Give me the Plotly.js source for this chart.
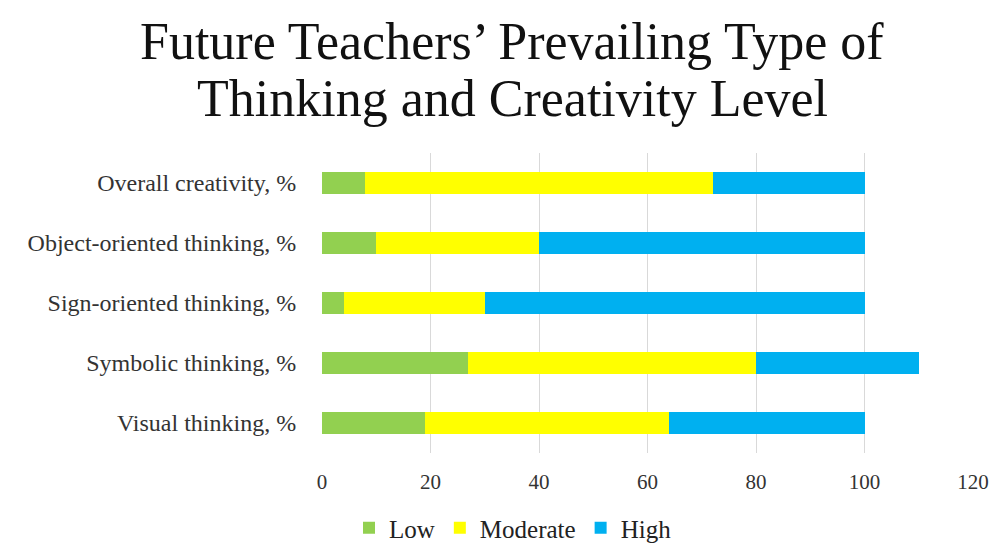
<!DOCTYPE html>
<html>
<head>
<meta charset="utf-8">
<script src="https://cdn.plot.ly/plotly-3.0.1.min.js"></script>
<style>html,body{margin:0;padding:0;background:#fff;}#chart{width:994px;height:545px;}</style>
</head>
<body>
<div id="chart"></div>
<script>
const categories = ["Visual thinking, %", "Symbolic thinking, %", "Sign-oriented thinking, %", "Object-oriented thinking, %", "Overall creativity, %"];
const lowValues = [19, 27, 4, 10, 8];
const moderateValues = [45, 53, 26, 30, 64];
const highValues = [36, 30, 70, 60, 28];
const seriesNames = ["Low", "Moderate", "High"];
const xTicks = [0, 20, 40, 60, 80, 100, 120];
const titleLines = ["Future Teachers’ Prevailing Type of", "Thinking and Creativity Level"];

const serif = "Liberation Serif, Times New Roman, serif";
const colors = ["#92D050", "#FFFF00", "#00B0F0"];
const data = [lowValues, moderateValues, highValues].map((vals, i) => ({
  type: "bar",
  orientation: "h",
  name: seriesNames[i],
  y: categories,
  x: vals,
  marker: {color: colors[i], line: {width: 0}},
  hoverinfo: "x+name"
}));

const ML = 322, MR = 21, MT = 153, MB = 92, W = 994, H = 545;
const PW = W - ML - MR, PH = H - MT - MB;
const px2x = px => (px - ML) / PW;
const py2y = py => (H - MB - py) / PH;

const layout = {
  width: W, height: H,
  paper_bgcolor: "#fff", plot_bgcolor: "#fff",
  margin: {l: ML, r: MR, t: MT, b: MB, autoexpand: false},
  barmode: "stack",
  bargap: 0.62,
  showlegend: true,
  legend: {
    orientation: "h", xref: "container", yref: "container",
    x: 513 / W, xanchor: "center", y: (H - 505) / H, yanchor: "top",
    font: {family: serif, size: 25, color: "#222"},
    traceorder: "normal"
  },
  xaxis: {
    range: [0, 120], tickvals: xTicks, ticktext: xTicks.map(String),
    showgrid: true, gridcolor: "#d9d9d9", gridwidth: 1,
    zeroline: false, showline: false,
    ticks: "outside", ticklen: 10, tickcolor: "rgba(0,0,0,0)",
    tickfont: {family: serif, size: 21, color: "#333"},
    fixedrange: true
  },
  yaxis: {
    categoryorder: "array", categoryarray: categories,
    showgrid: false, zeroline: false, showline: false,
    ticks: "outside", ticklen: 20, tickcolor: "rgba(0,0,0,0)",
    tickfont: {family: serif, size: 24, color: "#333"},
    fixedrange: true
  },
  annotations: titleLines.map((t, i) => ({
    text: t, xref: "paper", yref: "paper",
    x: px2x(512), xanchor: "center",
    y: py2y(i === 0 ? 41 : 98), yanchor: "middle",
    showarrow: false,
    font: {family: serif, size: 52, color: "#111"}
  }))
};

Plotly.newPlot("chart", data, layout, {displayModeBar: false, staticPlot: true});
</script>
</body>
</html>
